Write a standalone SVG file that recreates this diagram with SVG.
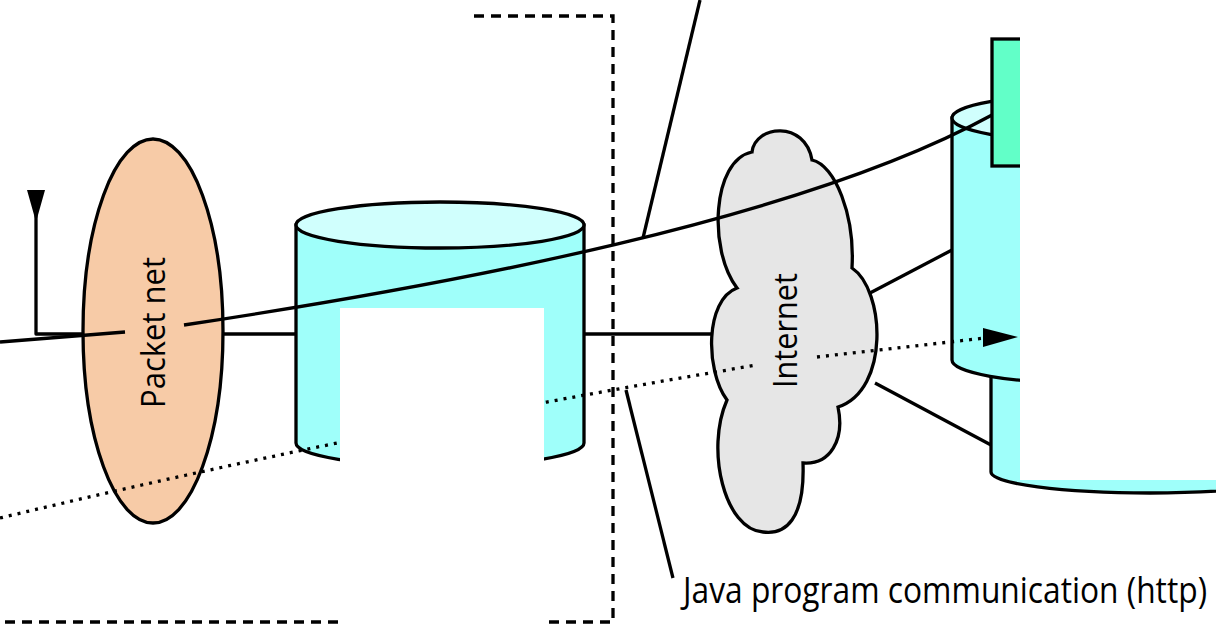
<svg xmlns="http://www.w3.org/2000/svg" width="1216" height="628" viewBox="0 0 1216 628">
<style>
.ln{fill:none;stroke:#000;stroke-width:3.3;stroke-linejoin:round}
.dot{fill:none;stroke:#000;stroke-width:3.3;stroke-dasharray:3 6}
.dash{fill:none;stroke:#000;stroke-width:3.3;stroke-dasharray:10 7}
.body{fill:#9ffffa;stroke:#000;stroke-width:3.3}
.top{fill:#d0fffd;stroke:#000;stroke-width:3.3}
.t{font-family:"Open Sans","Noto Sans",sans-serif;fill:#000}
.occ{fill:#fff;stroke:none}
</style>
<rect width="1216" height="628" fill="#fff"/>
<g id="packet-net">
<ellipse cx="153" cy="331" rx="70" ry="192" fill="#f7cba7" stroke="#000" stroke-width="3.3"/>
<text class="t" font-size="32" text-anchor="middle" textLength="151" lengthAdjust="spacingAndGlyphs" transform="translate(165,332.5) rotate(-90)">Packet net</text>
</g>
<g id="antenna">
<polygon points="27,190 45,190 36,222" fill="#000"/>
<polyline class="ln" points="36,205 36,334 84,334"/>
</g>
<g id="cylinder-left">
<path class="body" d="M296,225 L296,443 A144,23 0 0 0 584,443 L584,225 Z"/>
<ellipse class="top" cx="440" cy="225" rx="144" ry="23"/>
</g>
<g id="cylinder-right-lower">
<path class="body" d="M991,370 L991,472 A159,21 0 0 0 1309,472 L1309,370 Z"/>
</g>
<g id="cylinder-right-upper">
<path class="body" d="M952,118 L952,360 A130,23 0 0 0 1212,360 L1212,118 Z"/>
<ellipse class="top" cx="1082" cy="118" rx="130" ry="23"/>
</g>
<g id="green-box">
<rect x="992" y="39" width="60" height="127" fill="#62ffc8" stroke="#000" stroke-width="3.3"/>
</g>
<g id="internet">
<path d="M752,152 C755,125 805,120 812,160 C835,165 855,215 852,268 C885,290 890,390 838,407 C845,440 830,465 803,463 C805,520 785,535 763,532 C725,530 705,450 727,400 C705,370 705,300 737,288 C708,250 712,160 752,152 Z" fill="#e6e6e6" stroke="#000" stroke-width="3.3"/>
<text class="t" font-size="33" text-anchor="middle" textLength="115" lengthAdjust="spacingAndGlyphs" transform="translate(797,330.5) rotate(-90)">Internet</text>
</g>
<g id="connectors">
<line class="ln" x1="0" y1="342" x2="125" y2="332"/>
<path class="ln" d="M184,325 C450,285 800,220 992,115"/>
<line class="ln" x1="223" y1="334" x2="296" y2="334"/>
<line class="ln" x1="584" y1="334" x2="713" y2="334"/>
<line class="ln" x1="870" y1="293" x2="952" y2="250"/>
<line class="ln" x1="875" y1="383" x2="991" y2="445"/>
<line class="ln" x1="700" y1="0" x2="643" y2="238"/>
<line class="ln" x1="626" y1="390" x2="673" y2="578"/>
<path class="dot" d="M0,518 C250,458 500,408 757,365"/>
<path class="dot" d="M817,357 L985,338"/>
<polygon points="983,328 1018,337 983,347" fill="#000"/>
</g>
<g id="boundary">
<polyline class="dash" points="474,16 613,16 613,622 0,622"/>
</g>
<g id="occlusions">
<rect class="occ" x="340" y="308" width="204" height="320"/>
<rect class="occ" x="1020" y="0" width="196" height="480"/>
</g>
<g id="label">
<text class="t" x="683" y="603" font-size="36" textLength="524" lengthAdjust="spacingAndGlyphs">Java program communication (http)</text>
</g>
</svg>
